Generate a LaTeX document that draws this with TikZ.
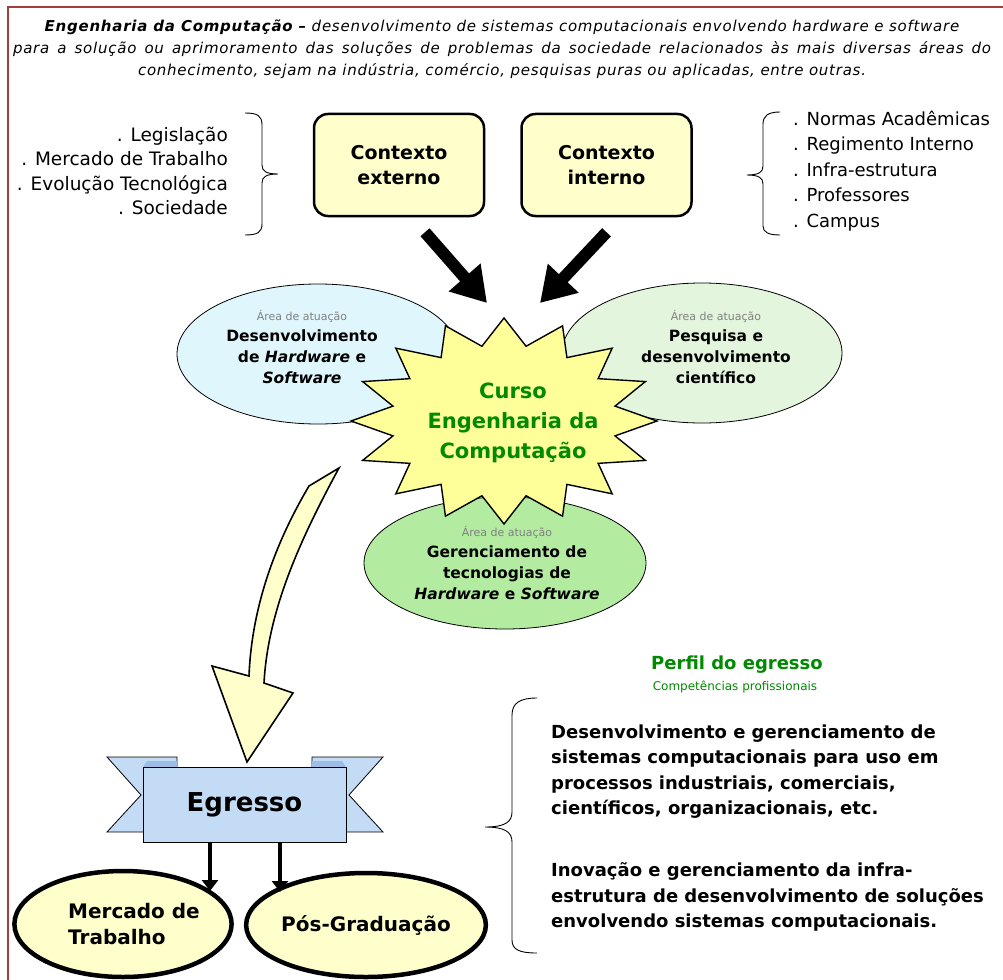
\documentclass[tikz,border=0pt]{standalone}
\usepackage{fontspec}
\setmainfont{DejaVu Sans}
\usetikzlibrary{arrows.meta,shapes.geometric}

\definecolor{paleyellow}{HTML}{FFFFCC}
\definecolor{staryellow}{HTML}{FFFF99}
\definecolor{framered}{HTML}{A0403C}
\definecolor{areacyan}{HTML}{DFF7FC}
\definecolor{areamint}{HTML}{E3F5DD}
\definecolor{areagreen}{HTML}{B3ECA0}
\definecolor{ribbonblue}{HTML}{C4DBF5}
\definecolor{ribbondark}{HTML}{9DBDE6}
\definecolor{titlegreen}{HTML}{008A00}

\newcommand{\fs}[2]{\fontsize{#1}{#2}\selectfont}
\newcommand{\areatitle}{{\fs{11}{14}\mdseries\color{gray}Área de atuação}}

\begin{document}
\begin{tikzpicture}[x=1pt,y=-1pt,
    ctxbox/.style={draw=black, line width=2.5pt, fill=paleyellow, rounded corners=14pt,
        minimum width=170pt, minimum height=102pt, align=center, font=\fs{19}{25}\bfseries},
    areaellipse/.style={ellipse, draw=black, line width=0.8pt, inner sep=0pt},
    areatext/.style={align=center, font=\fs{15.5}{21}\bfseries},
    bigarrow/.style={line width=12pt, -{Triangle[length=34pt,width=40pt]}},
    smallarrow/.style={line width=4pt, -{Triangle[length=11pt,width=16pt]}},
    outcome/.style={ellipse, draw=black, line width=4.5pt, fill=paleyellow, inner sep=0pt,
        font=\fs{20}{26}\bfseries},
    wing/.style={draw=black, line width=0.8pt, fill=ribbonblue},
]
    \useasboundingbox (0,0) rectangle (1003,979);

    % Frame of the page
    \draw[framered, line width=1.5pt] (8,995) -- (8,7) -- (1015,7);

    % Definition of the course
    \node[align=center, font=\fs{15}{22}\itshape\addfontfeatures{LetterSpace=5}] (header) at (502,49)
        {\textbf{Engenharia da Computação –} desenvolvimento de sistemas computacionais envolvendo hardware e software\\
         \makebox[978pt][s]{para a solução ou aprimoramento das soluções de problemas da sociedade relacionados às mais diversas áreas do}\\
         conhecimento, sejam na indústria, comércio, pesquisas puras ou aplicadas, entre outras.};

    % External and internal context
    \node[anchor=east, align=right, inner sep=0pt, font=\fs{18.5}{24.5}] (extlist) at (228,171)
        {. Legislação\\. Mercado de Trabalho\\. Evolução Tecnológica\\. Sociedade};
    \draw[line width=0.9pt] (245,113) .. controls (258,113) and (262,116) .. (262,125) -- (262,165)
        .. controls (262,171) and (266,174) .. (278,174) .. controls (266,174) and (262,177) .. (262,183)
        -- (262,224) .. controls (262,232) and (258,235) .. (245,235);
    \node[ctxbox] (ctxext) at (399,165) {Contexto\\externo};
    \node[ctxbox] (ctxint) at (606.5,165) {Contexto\\interno};
    \draw[line width=0.9pt] (780,112) .. controls (768,112) and (763,116) .. (763,124) -- (763,166)
        .. controls (763,172) and (759,175) .. (747,175) .. controls (759,175) and (763,178) .. (763,184)
        -- (763,226) .. controls (763,232) and (768,235) .. (780,235);
    \node[anchor=west, align=left, inner sep=0pt, font=\fs{18}{25.5}] (intlist) at (793,171)
        {. Normas Acadêmicas\\. Regimento Interno\\. Infra-estrutura\\. Professores\\. Campus};

    % Areas of work
    \node[areaellipse, fill=areacyan, minimum width=282pt, minimum height=140pt] (areahw) at (318,354) {};
    \node[areaellipse, fill=areamint, minimum width=280pt, minimum height=140pt] (areapesq) at (702,353) {};
    \node[areaellipse, fill=areagreen, minimum width=282pt, minimum height=132pt] (areager) at (505,563) {};
    \node[areatext] (areahwtext) at (302,347)
        {\areatitle\\Desenvolvimento\\de \textit{Hardware} e\\\textit{Software}};
    \node[areatext] (areapesqtext) at (716,347)
        {\areatitle\\Pesquisa e\\desenvolvimento\\científico};

    % Course star
    \draw[line width=1.4pt, fill=staryellow] plot[samples at={0,...,31}, variable=\k]
        ({504+153*ifthenelse(mod(\k,2)==0,1,0.74)*cos(90-11.25*\k)},
         {421-103*ifthenelse(mod(\k,2)==0,1,0.74)*sin(90-11.25*\k)}) -- cycle;
    \node[align=center, text=titlegreen, font=\fs{21}{30}\bfseries] (curso) at (513,423)
        {Curso\\Engenharia da\\Computação};
    \node[areatext] (areagertext) at (507,563)
        {\areatitle\\Gerenciamento de\\tecnologias de\\\textit{Hardware} e \textit{Software}};

    % Context arrows
    \draw[bigarrow] ([shift={(26,15)}]ctxext.south) -- ([shift={(-26,-120)}]curso.center);
    \draw[bigarrow] ([shift={(0,15)}]ctxint.south) -- ([shift={(27,-120)}]curso.center);

    % Curved arrow down to the graduate
    \draw[line width=1.6pt, fill=paleyellow, line join=miter]
        (309,486) .. controls (280,535) and (252,600) .. (249,676) -- (212,666) -- (247,762)
        -- (293,693) -- (264,683) .. controls (268,610) and (300,540) .. (339,468) -- cycle;

    % Graduate ribbon
    \draw[wing] (107,757) -- (177,757) -- (177,832) -- (107,832) -- (141,795) -- cycle;
    \draw[wing] (383,757) -- (312,757) -- (312,832) -- (383,832) -- (349,795) -- cycle;
    \fill[ribbondark] (143,767) -- (147,761) -- (177,761) -- (177,767) -- cycle;
    \fill[ribbondark] (346,767) -- (342,761) -- (312,761) -- (312,767) -- cycle;
    \node[draw=black, line width=0.8pt, fill=ribbonblue, minimum width=203pt, minimum height=75pt,
        font=\fs{26}{30}\bfseries] (egresso) at (244.5,804.5) {Egresso};

    % Outcomes
    \node[outcome, minimum width=212pt, minimum height=106pt, align=left] (mercado) at (123,924)
        {\hspace*{22pt}Mercado de\\\hspace*{22pt}Trabalho};
    \node[outcome, minimum width=212pt, minimum height=104pt] (posgrad) at (366,925) {Pós-Graduação};
    \draw[smallarrow] ([xshift=-34.5pt]egresso.south) -- ([shift={(87,-33)}]mercado.center);
    \draw[smallarrow] ([xshift=35.5pt]egresso.south) -- ([shift={(-86,-33)}]posgrad.center);

    % Profile of the graduate
    \node[text=titlegreen, font=\fs{18}{22}\bfseries] (perfil) at (737,665) {Perfil do egresso};
    \node[text=titlegreen, font=\fs{12}{14}] (competencias) at (735,687) {Competências profissionais};
    \draw[line width=0.9pt] (537,698) .. controls (520,698) and (512,703) .. (512,715) -- (512,812)
        .. controls (512,822) and (505,827) .. (485,827) .. controls (505,827) and (512,832) .. (512,842)
        -- (512,940) .. controls (512,950) and (520,953) .. (537,953);
    \node[anchor=west, align=left, inner sep=0pt, font=\fs{18}{25.5}\bfseries] (comp1) at (551,771.5)
        {Desenvolvimento e gerenciamento de\\sistemas computacionais para uso em\\processos industriais, comerciais,\\científicos, organizacionais, etc.};
    \node[anchor=west, align=left, inner sep=0pt, font=\fs{18}{25.5}\bfseries] (comp2) at (551,897)
        {Inovação e gerenciamento da infra-\\estrutura de desenvolvimento de soluções\\envolvendo sistemas computacionais.};
\end{tikzpicture}
\end{document}
